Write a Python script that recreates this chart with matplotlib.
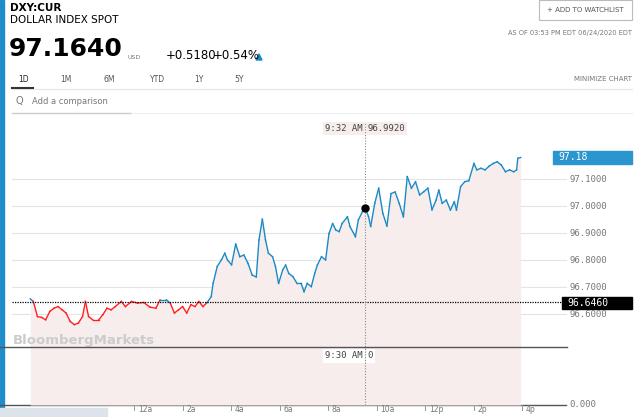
import matplotlib
matplotlib.use("Agg")
import matplotlib.pyplot as plt
import numpy as np
from matplotlib.patches import Rectangle, Polygon

hours = [-4.30,-4.17,-4.00,-3.83,-3.66,-3.49,-3.32,-3.15,-2.98,-2.82,-2.65,-2.48,-2.31,-2.14,-2.02,-1.89,-1.72,-1.47,-1.30,-1.13,
 -0.96,-0.79,-0.54,-0.37,-0.12,0.13,0.39,0.64,0.89,1.06,1.32,1.48,1.65,1.82,1.99,2.16,2.33,2.50,2.66,2.83,3.00,3.17,3.25,3.42,
 3.59,3.73,3.84,4.01,4.18,4.35,4.52,4.69,4.86,5.03,5.14,5.28,5.41,5.53,5.70,5.82,5.95,6.12,6.24,6.37,6.54,6.71,6.88,7.00,7.13,
 7.30,7.44,7.55,7.72,7.89,8.03,8.18,8.31,8.45,8.57,8.79,8.90,9.12,9.24,9.41,9.53,9.66,9.75,9.92,10.08,10.25,10.42,10.59,10.76,
 10.93,11.10,11.26,11.43,11.60,11.77,11.94,12.11,12.28,12.45,12.56,12.70,12.87,13.04,13.20,13.29,13.46,13.63,13.80,14.01,14.13,
 14.30,14.47,14.64,14.81,14.97,15.14,15.31,15.48,15.65,15.77,15.82,15.94]
prices = [96.657,96.647,96.591,96.588,96.579,96.610,96.622,96.628,96.616,96.604,96.573,96.561,96.567,96.591,96.647,96.591,96.579,
 96.579,96.598,96.622,96.616,96.628,96.647,96.628,96.647,96.641,96.643,96.626,96.622,96.653,96.653,96.641,96.604,96.616,96.628,
 96.604,96.635,96.628,96.647,96.628,96.643,96.665,96.715,96.777,96.801,96.826,96.801,96.783,96.860,96.813,96.819,96.788,96.745,
 96.738,96.875,96.952,96.875,96.826,96.813,96.777,96.714,96.764,96.782,96.751,96.739,96.714,96.714,96.683,96.714,96.702,96.751,
 96.782,96.813,96.801,96.899,96.936,96.912,96.906,96.936,96.961,96.924,96.887,96.949,96.980,96.992,96.962,96.925,97.012,97.067,
 96.974,96.927,97.047,97.053,97.010,96.961,97.110,97.067,97.091,97.042,97.054,97.067,96.987,97.023,97.060,97.011,97.023,96.986,
 97.017,96.986,97.073,97.091,97.095,97.159,97.135,97.141,97.135,97.149,97.159,97.165,97.153,97.128,97.135,97.128,97.135,97.178,97.181]
prev_close = 96.646
grid_levels = [96.6, 96.7, 96.8, 96.9, 97.0, 97.1]
tick_hours = [0, 2, 4, 6, 8, 10, 12, 14, 16]
tick_labels = ["12a", "2a", "4a", "6a", "8a", "10a", "12p", "2p", "4p"]
cross_hour, cross_price = 9.53, 96.992

BLUE = "#1a8ac6"; RED = "#ff2020"; GRAY = "#777777"
fig = plt.figure(figsize=(6.4, 4.17), dpi=100)

ax = fig.add_axes([12/640, 12/417, 555/640, 285/417])
ax.set_xlim(-5.05, 17.85)
ax.set_ylim(96.263, 97.320)
ax.axis("off")
t = np.array(hours); p = np.array(prices)
ax.fill_between(t, p, 96.263, color="#f7eded", lw=0, zorder=1)
for g in grid_levels:
    ax.axhline(g, color="#e4e4e4", lw=0.8, zorder=0)
for i in range(len(t) - 1):
    c = BLUE if (p[i] + p[i+1]) / 2 >= prev_close else RED
    ax.plot(t[i:i+2], p[i:i+2], color=c, lw=1.0, zorder=3)
ax.axhline(prev_close, color="black", lw=0.9, ls=(0, (1, 1)), zorder=4)
ax.axvline(cross_hour, color="#888888", lw=0.8, ls=(0, (1, 1.5)), ymax=0.99, zorder=4)
ax.plot([cross_hour], [cross_price], "o", color="black", ms=5, zorder=5)
ax.axhline(96.478, color="#555555", lw=1.0, xmin=-0.03, zorder=4, clip_on=False)
ax.text(-5.0, 96.503, "BloombergMarkets", fontsize=9.5, weight="bold", color="#cccccc", va="center", zorder=2)
for g in grid_levels:
    ax.text(17.95, g, f"{g:.4f}", fontsize=6.5, family="DejaVu Sans Mono", color=GRAY, va="center")
ax.text(17.95, 96.263, "0.000", fontsize=6.5, family="DejaVu Sans Mono", color=GRAY, va="center")
for h, lab in zip(tick_hours, tick_labels):
    ax.plot([h, h], [96.263, 96.243], color="#999999", lw=0.7, clip_on=False)
    ax.text(h + 0.15, 96.245, lab, fontsize=5.5, color=GRAY, va="center")
ax.text(cross_hour - 0.1, 97.29, "9:32 AM", fontsize=6.5, family="DejaVu Sans Mono", color="#444",
        ha="right", va="center", bbox=dict(fc="#f7eded", ec="none", pad=1.5))
ax.text(cross_hour + 0.1, 97.29, f"{cross_price:.4f}", fontsize=6.5, family="DejaVu Sans Mono", color="#444",
        ha="left", va="center", bbox=dict(fc="#f7eded", ec="none", pad=1.5))
ax.text(cross_hour - 0.1, 96.445, "9:30 AM", fontsize=6.5, family="DejaVu Sans Mono", color="#444",
        ha="right", va="center", bbox=dict(fc="white", ec="none", pad=1.5))
ax.text(cross_hour + 0.1, 96.445, "0", fontsize=6.5, family="DejaVu Sans Mono", color="#444",
        ha="left", va="center", bbox=dict(fc="white", ec="none", pad=1.5))

ov = fig.add_axes([0, 0, 1, 1], zorder=-1)
ov.set_xlim(0, 640); ov.set_ylim(417, 0); ov.axis("off")
ov.add_patch(Rectangle((0, 0), 4, 417, color="#1f8ccc"))
ov.plot([0, 566], [405, 405], color="#555555", lw=1)
ov.add_patch(Rectangle((0, 408), 107, 9, color="#dde3ea"))
ov.text(10, 8, "DXY:CUR", fontsize=7.5, weight="bold", va="center")
ov.text(10, 20, "DOLLAR INDEX SPOT", fontsize=7.5, va="center")
ov.text(9, 49, "97.1640", fontsize=18, weight="bold", va="center")
ov.text(127, 57, "USD", fontsize=4.5, color=GRAY, va="center")
ov.text(166, 55, "+0.5180", fontsize=8.5, va="center")
ov.text(213, 55, "+0.54%", fontsize=8.5, va="center")
ov.add_patch(Polygon([[256, 60], [262, 60], [259, 54]], color=BLUE))
ov.add_patch(Rectangle((539, 0), 93, 20, fc="white", ec="#bbbbbb", lw=0.8))
ov.text(585, 10, "+ ADD TO WATCHLIST", fontsize=5, color="#555", ha="center", va="center")
ov.text(632, 33, "AS OF 03:53 PM EDT 06/24/2020 EDT", fontsize=4.8, color=GRAY, ha="right", va="center")
for x, lab in zip([18, 60, 103, 150, 194, 234], ["1D", "1M", "6M", "YTD", "1Y", "5Y"]):
    ov.text(x, 79, lab, fontsize=5.5, color="#222" if lab == "1D" else "#555", va="center")
ov.text(632, 79, "MINIMIZE CHART", fontsize=5, color=GRAY, ha="right", va="center")
ov.plot([12, 632], [89, 89], color="#e6e6e6", lw=0.8)
ov.plot([12, 33], [88, 88], color="#333", lw=1.5)
ov.text(15, 101, "Q", fontsize=7, color=GRAY, va="center")
ov.text(32, 101, "Add a comparison", fontsize=6, color=GRAY, va="center")
ov.plot([12, 632], [113, 113], color="#eeeeee", lw=0.8)
ov.plot([12, 130], [113, 113], color="#cccccc", lw=1)
ov.add_patch(Rectangle((553, 151), 79, 13, color="#2b95cf"))
ov.text(558, 157.5, "97.18", fontsize=7, family="DejaVu Sans Mono", color="white", va="center")
ov.add_patch(Rectangle((562, 297), 70, 12, color="black"))
ov.text(567, 303, "96.6460", fontsize=7, family="DejaVu Sans Mono", color="white", va="center")

fig.savefig("out.png", dpi=100)
